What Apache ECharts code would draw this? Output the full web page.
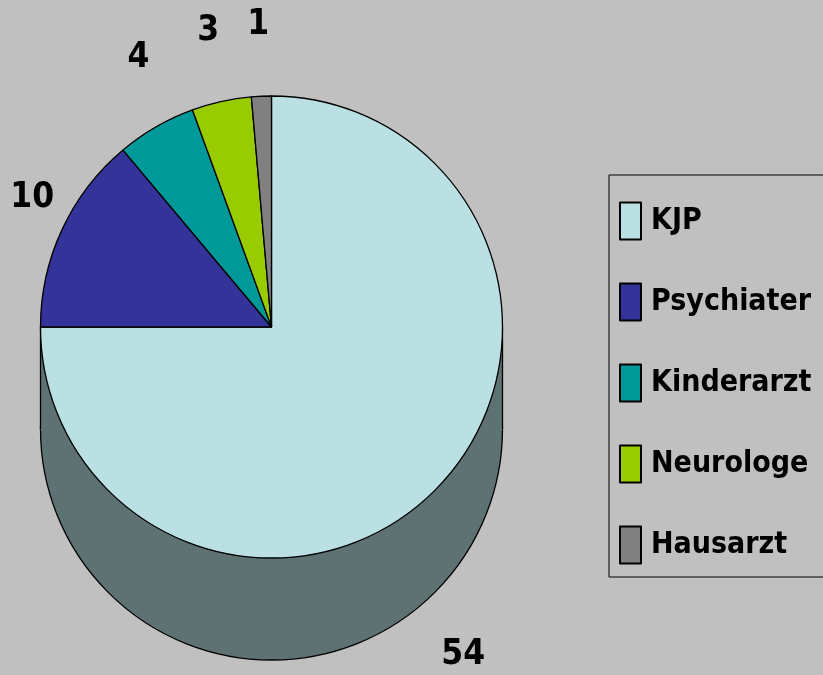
<!DOCTYPE html>
<html>
<head>
<meta charset="utf-8">
<script src="https://cdn.jsdelivr.net/npm/echarts@6/dist/echarts.min.js"></script>
<style>
html,body{margin:0;padding:0;background:#C0C0C0;}
#chart{width:823px;height:675px;}
</style>
</head>
<body>
<div id="chart"></div>
<script>
const categories = ['KJP', 'Psychiater', 'Kinderarzt', 'Neurologe', 'Hausarzt'];
const values = [54, 10, 4, 3, 1];
const colors = ['#BBE0E3', '#333399', '#009999', '#99CC00', '#808080'];
const sideColor = '#5E7173';

// layout
const CX = 271.5, CY = 327, R = 231, DEPTH = 102;
// per-label ring: [centerShiftX, centerShiftY, radius]
const labelRing = [[0, DEPTH + 34, 268], [0, -18, 261], [0, -39, 263], [0, -11, 289], [0, 1, 300]];

// font choice: narrowest available bold sans
function fontAvailable(name) {
  const c = document.createElement('canvas').getContext('2d');
  const t = 'Psychiater 0123 KJP';
  c.font = 'bold 40px monospace';
  const w1 = c.measureText(t).width;
  c.font = "bold 40px '" + name + "', monospace";
  const w2 = c.measureText(t).width;
  return Math.abs(w1 - w2) > 0.5;
}
const candidates = ['Liberation Sans Narrow', 'Arial Narrow', 'Noto Sans ExtraCondensed', 'Noto Sans Condensed', 'DejaVu Sans Condensed', 'Liberation Sans'];
let FONT = 'sans-serif';
for (const f of candidates) { if (fontAvailable(f)) { FONT = "'" + f + "'"; break; } }
function measure(text, size) {
  const c = document.createElement('canvas').getContext('2d');
  c.font = 'bold ' + size + 'px ' + FONT;
  return c.measureText(text).width;
}
const legendSize = Math.round(40 * 162 / measure('Psychiater', 40));
const labelSize = Math.round(40 * 36 / measure('54', 40) * 1.2);

function pieData(fn) {
  return categories.map((name, i) => Object.assign({ name: name, value: values[i] }, fn(i)));
}

const series = [
  { // top face
    type: 'pie', z: 5, silent: true,
    center: [CX, CY], radius: [0, R],
    startAngle: 90, clockwise: true,
    label: { show: false }, labelLine: { show: false },
    emphasis: { disabled: true },
    itemStyle: { borderColor: '#000', borderWidth: 1.3 },
    data: pieData(i => ({ itemStyle: { color: colors[i] } }))
  },
  { // side (depth)
    type: 'pie', z: 1, silent: true,
    center: [CX, CY + DEPTH], radius: [0, R],
    startAngle: 90, clockwise: true,
    label: { show: false }, labelLine: { show: false },
    emphasis: { disabled: true },
    itemStyle: { borderColor: '#000', borderWidth: 1.3, color: sideColor },
    data: pieData(i => ({}))
  }
];
categories.forEach((name, k) => {
  const ring = labelRing[k];
  series.push({
    type: 'pie', z: 6, silent: true,
    center: [CX + ring[0], CY + ring[1]], radius: [ring[2] - 1, ring[2] + 1],
    startAngle: 90, clockwise: true,
    labelLine: { show: false }, emphasis: { disabled: true },
    itemStyle: { color: 'rgba(0,0,0,0)' },
    label: { position: 'inside', formatter: '{c}', fontFamily: FONT, fontWeight: 'bold', fontSize: labelSize, color: '#000' },
    data: pieData(i => ({ label: { show: i === k } }))
  });
});

const chart = echarts.init(document.getElementById('chart'), null, { renderer: 'canvas' });
chart.setOption({
  backgroundColor: '#C0C0C0',
  animation: false,
  legend: {
    orient: 'vertical',
    left: 609, top: 175,
    padding: [24, 40, 10, 10],
    itemGap: 37,
    itemWidth: 21, itemHeight: 37,
    icon: 'rect',
    selectedMode: false,
    borderColor: '#000', borderWidth: 1,
    data: categories,
    textStyle: { fontFamily: FONT, fontWeight: 'bold', fontSize: legendSize, lineHeight: 44, color: '#000', padding: [0, 0, 0, 5] }
  },
  graphic: [
    { type: 'rect', z: 2, silent: true,
      shape: { x: CX - R, y: CY, width: 2 * R, height: DEPTH + 1 },
      style: { fill: sideColor } },
    { type: 'line', z: 2, silent: true,
      shape: { x1: CX - R, y1: CY, x2: CX - R, y2: CY + DEPTH },
      style: { stroke: '#000', lineWidth: 1.3 } },
    { type: 'line', z: 2, silent: true,
      shape: { x1: CX + R, y1: CY, x2: CX + R, y2: CY + DEPTH },
      style: { stroke: '#000', lineWidth: 1.3 } }
  ],
  series: series
});
</script>
</body>
</html>
